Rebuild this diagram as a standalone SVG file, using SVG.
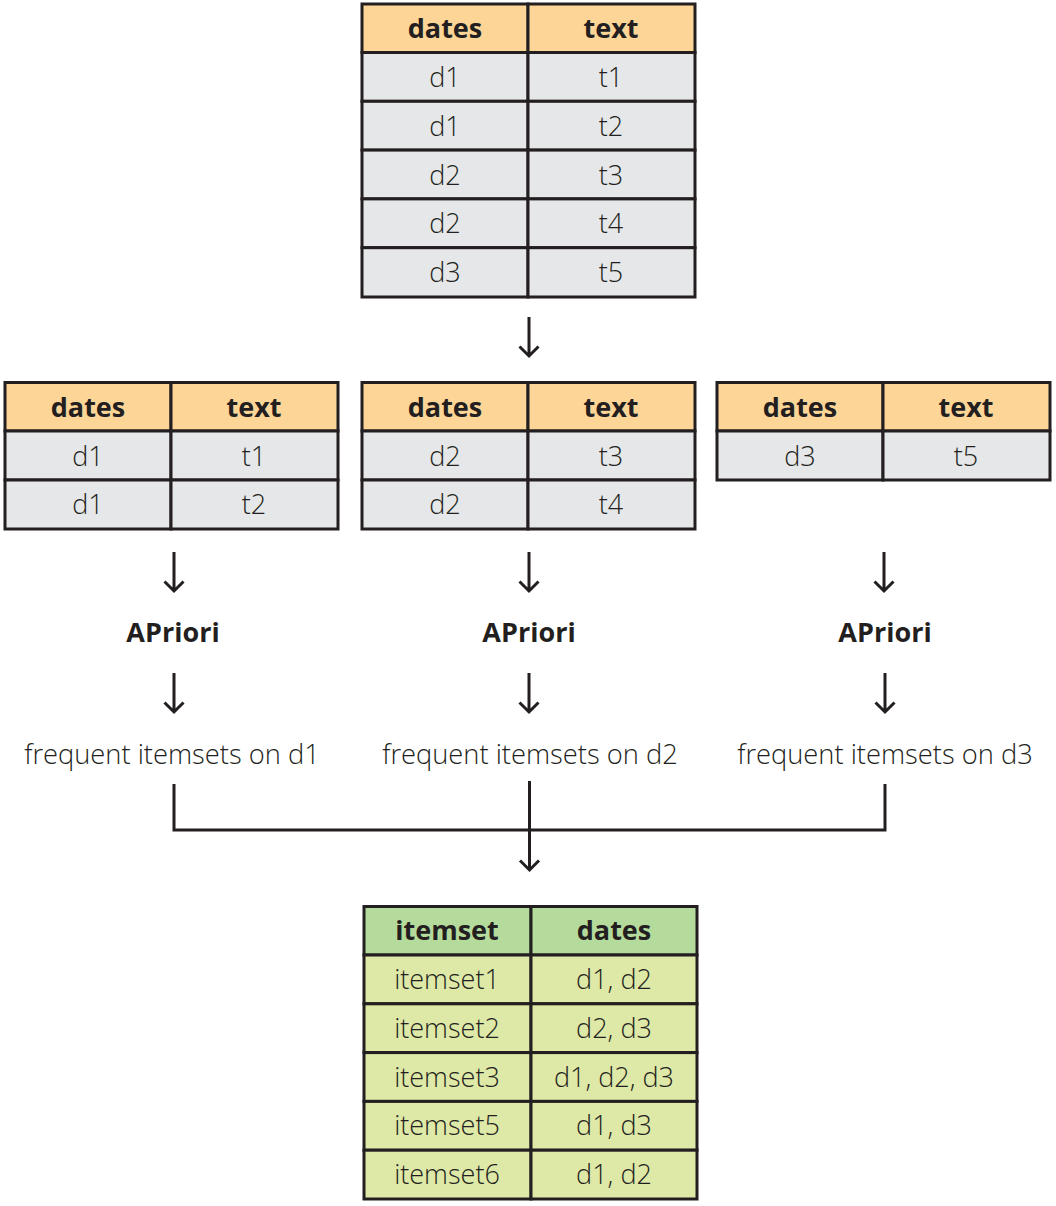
<svg xmlns="http://www.w3.org/2000/svg" width="1056" height="1206" viewBox="0 0 1056 1206">
<style>
.hd{fill:#FDD597;stroke:#231F20;stroke-width:3}
.cl{fill:#E6E7E8;stroke:#231F20;stroke-width:3}
.gh{fill:#B5DB9C;stroke:#231F20;stroke-width:3}
.gc{fill:#DEE8A7;stroke:#231F20;stroke-width:3}
.ht{font-family:"Open Sans",sans-serif;font-weight:700;font-size:27px;fill:#231F20;text-anchor:middle}
.ct{font-family:"Open Sans",sans-serif;font-weight:300;font-size:27px;fill:#231F20;text-anchor:middle}
.lb{font-family:"Open Sans",sans-serif;font-weight:700;font-size:27px;fill:#231F20;text-anchor:middle}
.ft{font-family:"Open Sans",sans-serif;font-weight:300;font-size:27.3px;fill:#231F20;text-anchor:middle}
.ln{fill:none;stroke:#231F20;stroke-width:3}
</style>
<rect width="1056" height="1206" fill="#fff"/>
<g id="table-top">
<rect class="hd" x="362" y="4" width="166" height="48.5"/><rect class="hd" x="528" y="4" width="167" height="48.5"/>
<text class="ht" x="445" y="38">dates</text><text class="ht" x="611" y="38">text</text>
<rect class="cl" x="362" y="52.5" width="166" height="48.8"/><rect class="cl" x="528" y="52.5" width="167" height="48.8"/>
<rect class="cl" x="362" y="101.3" width="166" height="48.8"/><rect class="cl" x="528" y="101.3" width="167" height="48.8"/>
<rect class="cl" x="362" y="150.1" width="166" height="48.8"/><rect class="cl" x="528" y="150.1" width="167" height="48.8"/>
<rect class="cl" x="362" y="198.9" width="166" height="48.8"/><rect class="cl" x="528" y="198.9" width="167" height="48.8"/>
<rect class="cl" x="362" y="247.7" width="166" height="49.3"/><rect class="cl" x="528" y="247.7" width="167" height="49.3"/>
<text class="ct" x="445" y="87">d1</text><text class="ct" x="611" y="87">t1</text>
<text class="ct" x="445" y="136">d1</text><text class="ct" x="611" y="136">t2</text>
<text class="ct" x="445" y="185">d2</text><text class="ct" x="611" y="185">t3</text>
<text class="ct" x="445" y="233">d2</text><text class="ct" x="611" y="233">t4</text>
<text class="ct" x="445" y="282">d3</text><text class="ct" x="611" y="282">t5</text>
</g>
<g id="table-d1">
<rect class="hd" x="5" y="382.5" width="166" height="48.5"/><rect class="hd" x="171" y="382.5" width="167" height="48.5"/>
<text class="ht" x="88" y="417">dates</text><text class="ht" x="254" y="417">text</text>
<rect class="cl" x="5" y="431" width="166" height="49"/><rect class="cl" x="171" y="431" width="167" height="49"/>
<rect class="cl" x="5" y="480" width="166" height="49"/><rect class="cl" x="171" y="480" width="167" height="49"/>
<text class="ct" x="88" y="466">d1</text><text class="ct" x="254" y="466">t1</text>
<text class="ct" x="88" y="514">d1</text><text class="ct" x="254" y="514">t2</text>
</g>
<g id="table-d2">
<rect class="hd" x="362" y="382.5" width="166" height="48.5"/><rect class="hd" x="528" y="382.5" width="167" height="48.5"/>
<text class="ht" x="445" y="417">dates</text><text class="ht" x="611" y="417">text</text>
<rect class="cl" x="362" y="431" width="166" height="49"/><rect class="cl" x="528" y="431" width="167" height="49"/>
<rect class="cl" x="362" y="480" width="166" height="49"/><rect class="cl" x="528" y="480" width="167" height="49"/>
<text class="ct" x="445" y="466">d2</text><text class="ct" x="611" y="466">t3</text>
<text class="ct" x="445" y="514">d2</text><text class="ct" x="611" y="514">t4</text>
</g>
<g id="table-d3">
<rect class="hd" x="717" y="382.5" width="166" height="48.5"/><rect class="hd" x="883" y="382.5" width="167" height="48.5"/>
<text class="ht" x="800" y="417">dates</text><text class="ht" x="966" y="417">text</text>
<rect class="cl" x="717" y="431" width="166" height="49"/><rect class="cl" x="883" y="431" width="167" height="49"/>
<text class="ct" x="800" y="466">d3</text><text class="ct" x="966" y="466">t5</text>
</g>
<g id="apriori-1"><text class="lb" x="173" y="642">APriori</text></g>
<g id="apriori-2"><text class="lb" x="529" y="642">APriori</text></g>
<g id="apriori-3"><text class="lb" x="885" y="642">APriori</text></g>
<g id="freq-1"><text class="ft" x="172" y="764">frequent itemsets on d1</text></g>
<g id="freq-2"><text class="ft" x="530" y="764">frequent itemsets on d2</text></g>
<g id="freq-3"><text class="ft" x="885" y="764">frequent itemsets on d3</text></g>
<g id="table-result">
<rect class="gh" x="364" y="906.5" width="167" height="48.5"/><rect class="gh" x="531" y="906.5" width="166" height="48.5"/>
<text class="ht" x="447" y="940">itemset</text><text class="ht" x="614" y="940">dates</text>
<rect class="gc" x="364" y="955" width="167" height="48.8"/><rect class="gc" x="531" y="955" width="166" height="48.8"/>
<rect class="gc" x="364" y="1003.8" width="167" height="48.8"/><rect class="gc" x="531" y="1003.8" width="166" height="48.8"/>
<rect class="gc" x="364" y="1052.6" width="167" height="48.8"/><rect class="gc" x="531" y="1052.6" width="166" height="48.8"/>
<rect class="gc" x="364" y="1101.4" width="167" height="48.8"/><rect class="gc" x="531" y="1101.4" width="166" height="48.8"/>
<rect class="gc" x="364" y="1150.2" width="167" height="48.8"/><rect class="gc" x="531" y="1150.2" width="166" height="48.8"/>
<text class="ct" x="447" y="989">itemset1</text><text class="ct" x="614" y="989">d1, d2</text>
<text class="ct" x="447" y="1038">itemset2</text><text class="ct" x="614" y="1038">d2, d3</text>
<text class="ct" x="447" y="1087">itemset3</text><text class="ct" x="614" y="1087">d1, d2, d3</text>
<text class="ct" x="447" y="1135">itemset5</text><text class="ct" x="614" y="1135">d1, d3</text>
<text class="ct" x="447" y="1184">itemset6</text><text class="ct" x="614" y="1184">d1, d2</text>
</g>
<g id="connectors">
<path class="ln" d="M529 317V356M519.5 346.5L529 356L538.5 346.5"/>
<path class="ln" d="M174 552V591M164.5 581.5L174 591L183.5 581.5"/>
<path class="ln" d="M529 552V591M519.5 581.5L529 591L538.5 581.5"/>
<path class="ln" d="M884 552V591M874.5 581.5L884 591L893.5 581.5"/>
<path class="ln" d="M174 673V712M164.5 702.5L174 712L183.5 702.5"/>
<path class="ln" d="M529 673V712M519.5 702.5L529 712L538.5 702.5"/>
<path class="ln" d="M885 673V712M875.5 702.5L885 712L894.5 702.5"/>
<path class="ln" d="M174 784V830H885V784"/>
<path class="ln" d="M529.5 781V870M520 860.5L529.5 870L539 860.5"/>
</g>
</svg>
